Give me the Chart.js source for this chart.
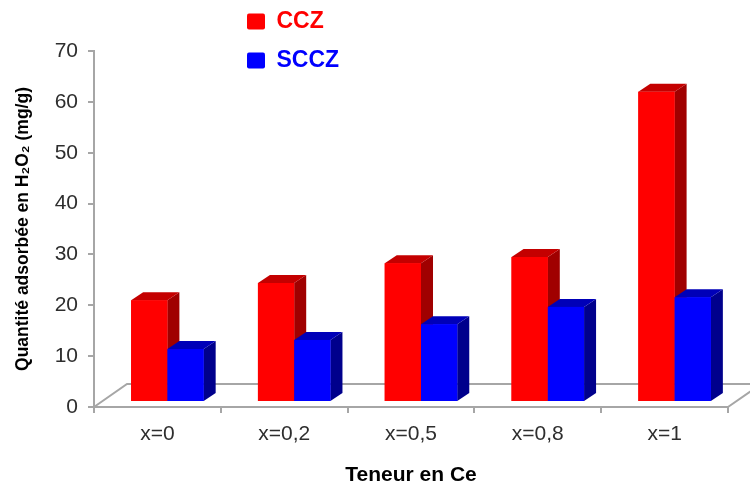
<!DOCTYPE html>
<html><head><meta charset="utf-8">
<script src="https://cdn.jsdelivr.net/npm/chart.js@4/dist/chart.umd.min.js"></script>
<style>html,body{margin:0;padding:0;background:#fff;}#wrap{width:750px;height:488px;}</style>
</head><body><div id="wrap"><canvas id="c" width="750" height="488"></canvas></div>
<script>
const categories = ['x=0', 'x=0,2', 'x=0,5', 'x=0,8', 'x=1'];
const seriesNames = ['CCZ', 'SCCZ'];
const cczValues = [20, 23.4, 27.3, 28.5, 61];
const scczValues = [10.4, 12.2, 15.3, 18.7, 20.6];
const yTickValues = [0, 10, 20, 30, 40, 50, 60, 70];
const xTitle = 'Teneur en Ce';
const yTitle = 'Quantité adsorbée en H₂O₂ (mg/g)';

const frontColors = ['#FF0000', '#0000FF'];
const sideColors = ['#A00000', '#00008C'];
const topColors = ['#C40000', '#0000B8'];
const AXIS_GRAY = '#A6A6A6';
// 3D projection constants (style)
const FLOOR_DX = 33, FLOOR_DY = 23;   // floor depth
const BAR_DX = 12, BAR_DY = 8;        // bar depth
const SHIFT_X = 10, SHIFT_Y = 5;      // bars sit part way into the floor

const threeD = {
  id: 'threeD',
  afterDatasetsUpdate(chart) {
    chart.data.datasets.forEach((ds, d) => {
      chart.getDatasetMeta(d).data.forEach(el => {
        el.x += SHIFT_X; el.y -= SHIFT_Y; el.base -= SHIFT_Y;
      });
    });
  },
  beforeDatasetsDraw(chart) {
    const {ctx, chartArea: a} = chart;
    ctx.save();
    ctx.strokeStyle = AXIS_GRAY;
    ctx.lineWidth = 2;
    ctx.beginPath();
    ctx.moveTo(a.left, a.bottom);
    ctx.lineTo(a.left + FLOOR_DX, a.bottom - FLOOR_DY);
    ctx.lineTo(a.right + FLOOR_DX, a.bottom - FLOOR_DY);
    ctx.moveTo(a.right, a.bottom);
    ctx.lineTo(a.right + FLOOR_DX, a.bottom - FLOOR_DY);
    ctx.stroke();
    ctx.restore();
  },
  afterDatasetsDraw(chart) {
    const {ctx} = chart;
    const n = chart.data.labels.length;
    ctx.save();
    for (let i = 0; i < n; i++) {
      chart.data.datasets.forEach((ds, d) => {
        const el = chart.getDatasetMeta(d).data[i];
        const l = el.x - el.width / 2, r = el.x + el.width / 2;
        const t = el.y, b = el.base;
        ctx.fillStyle = sideColors[d];
        ctx.beginPath();
        ctx.moveTo(r, t); ctx.lineTo(r + BAR_DX, t - BAR_DY);
        ctx.lineTo(r + BAR_DX, b - BAR_DY); ctx.lineTo(r, b); ctx.closePath();
        ctx.fill();
        ctx.fillStyle = topColors[d];
        ctx.beginPath();
        ctx.moveTo(l, t); ctx.lineTo(l + BAR_DX, t - BAR_DY);
        ctx.lineTo(r + BAR_DX, t - BAR_DY); ctx.lineTo(r, t); ctx.closePath();
        ctx.fill();
        ctx.fillStyle = frontColors[d];
        ctx.fillRect(l, t, r - l, b - t);
      });
    }
    ctx.restore();
  },
  afterLayout(chart) {
    const lg = chart.legend;
    if (!lg) return;
    const pad = lg.options.labels.padding;
    lg.left = 247 - pad; lg.top = 10 - pad;
    lg.right = lg.left + 220; lg.bottom = lg.top + 140;
    lg.width = 220; lg.height = 140;
  }
};

new Chart(document.getElementById('c'), {
  type: 'bar',
  data: {
    labels: categories,
    datasets: [
      {label: seriesNames[0], data: cczValues, backgroundColor: frontColors[0]},
      {label: seriesNames[1], data: scczValues, backgroundColor: frontColors[1]}
    ]
  },
  options: {
    responsive: false,
    animation: false,
    events: [],
    layout: {padding: {top: 51, right: 22, left: 0, bottom: 0}},
    datasets: {bar: {categoryPercentage: 0.572, barPercentage: 1.0}},
    plugins: {
      tooltip: {enabled: false},
      legend: {
        position: 'chartArea',
        align: 'start',
        labels: {
          boxWidth: 18, boxHeight: 16, padding: 16,
          font: {family: 'Liberation Sans, Arial, sans-serif', size: 23, weight: 'bold'},
          generateLabels(chart) {
            return chart.data.datasets.map((ds, i) => ({
              text: ds.label, fillStyle: ds.backgroundColor, strokeStyle: ds.backgroundColor,
              lineWidth: 0, fontColor: ds.backgroundColor, hidden: false, datasetIndex: i,
              borderRadius: 2
            }));
          }
        }
      }
    },
    scales: {
      x: {
        offset: true,
        grid: {display: true, drawOnChartArea: false, drawTicks: true, tickLength: 6, color: AXIS_GRAY, lineWidth: 2, offset: true},
        border: {display: true, color: AXIS_GRAY, width: 2},
        ticks: {color: '#2e2e2e', padding: 9, font: {family: 'Liberation Sans, Arial, sans-serif', size: 21}},
        title: {display: true, text: xTitle, color: '#000000', padding: {top: 0, bottom: 0},
                font: {family: 'Liberation Sans, Arial, sans-serif', size: 21, weight: 'bold'}},
        afterFit(scale) { scale.height = 81; }
      },
      y: {
        min: 0, max: 70,
        afterBuildTicks(scale) { scale.ticks = yTickValues.map(v => ({value: v})); },
        grid: {display: true, drawOnChartArea: false, drawTicks: true, tickLength: 6, color: AXIS_GRAY, lineWidth: 2},
        border: {display: true, color: AXIS_GRAY, width: 2},
        ticks: {color: '#2e2e2e', padding: 10, font: {family: 'Liberation Sans, Arial, sans-serif', size: 21}},
        title: {display: true, text: yTitle, color: '#000000', padding: {top: 13, bottom: 0},
                font: {family: 'Liberation Sans, Arial, sans-serif', size: 17.5, weight: 'bold'}},
        afterFit(scale) { scale.width = 94; }
      }
    }
  },
  plugins: [threeD]
});
</script></body></html>
